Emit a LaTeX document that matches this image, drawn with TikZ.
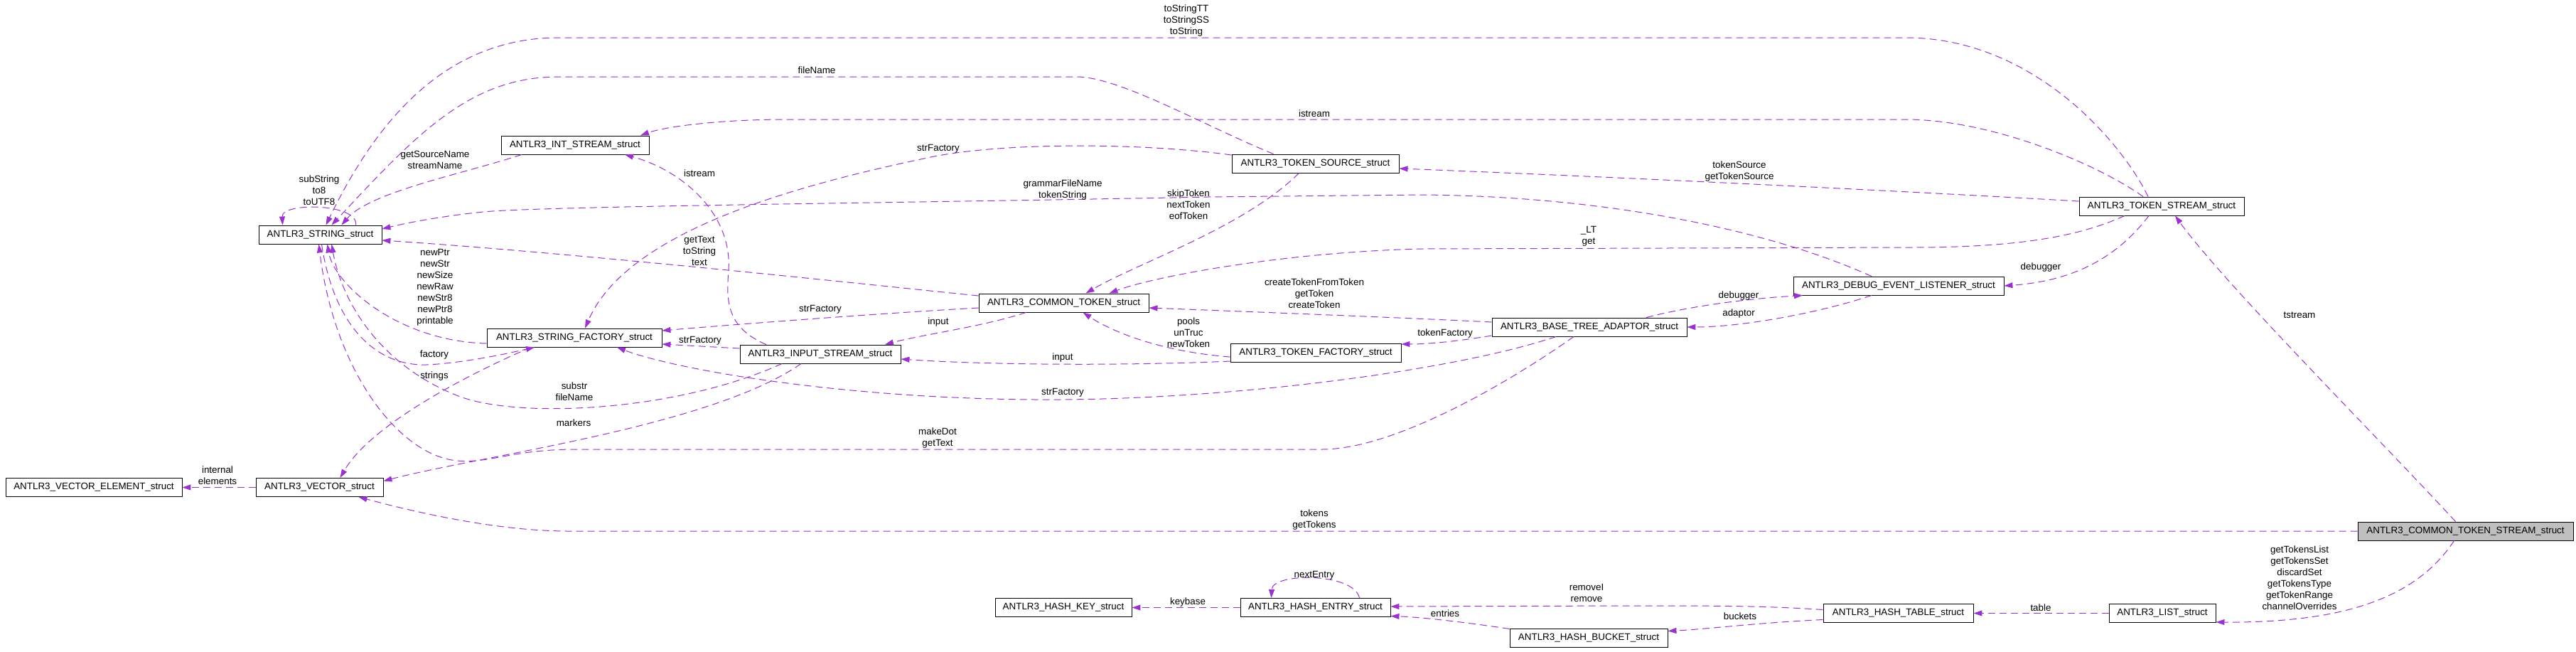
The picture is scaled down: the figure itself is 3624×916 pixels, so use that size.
\documentclass[tikz,border=0pt]{standalone}
\usepackage{fontspec}
\setmainfont{Liberation Sans}
\usetikzlibrary{arrows.meta}
\definecolor{edgecol}{RGB}{154,50,205}
\definecolor{focusfill}{RGB}{191,191,191}
\newcommand\fsz{\fontsize{13.4pt}{16pt}\selectfont}
\begin{document}
\begin{tikzpicture}[x=1pt,y=-1pt,
  box/.style={draw=black,fill=white,line width=0.9pt,minimum height=26pt,inner sep=0pt,font=\fsz,anchor=center},
  edge/.style={draw=edgecol,line width=1pt,dash pattern=on 10pt off 6pt,-{Triangle[length=12pt,width=8pt]}},
  lbl/.style={font=\fsz,align=center,inner sep=0pt}]
\fill[white] (0,0) rectangle (3624,916);
\useasboundingbox (0,0) rectangle (3624,916);

% nodes
\node[box,minimum width=173pt] (STRING) at (450.5,330) {ANTLR3\_STRING\_struct};
\node[box,minimum width=208pt] (INTSTR) at (809,204) {ANTLR3\_INT\_STREAM\_struct};
\node[box,minimum width=246pt] (STRFAC) at (808,475) {ANTLR3\_STRING\_FACTORY\_struct};
\node[box,minimum width=226pt] (INPUT) at (1154,498) {ANTLR3\_INPUT\_STREAM\_struct};
\node[box,minimum width=235pt] (TOKSRC) at (1850.5,230) {ANTLR3\_TOKEN\_SOURCE\_struct};
\node[box,minimum width=239pt] (CTOKEN) at (1496.5,426) {ANTLR3\_COMMON\_TOKEN\_struct};
\node[box,minimum width=240pt] (TOKFAC) at (1851,496) {ANTLR3\_TOKEN\_FACTORY\_struct};
\node[box,minimum width=274pt] (BASETREE) at (2236,460) {ANTLR3\_BASE\_TREE\_ADAPTOR\_struct};
\node[box,minimum width=296pt] (DEBUG) at (2671,402) {ANTLR3\_DEBUG\_EVENT\_LISTENER\_struct};
\node[box,minimum width=232pt] (TOKSTREAM) at (3041,290) {ANTLR3\_TOKEN\_STREAM\_struct};
\node[box,fill=focusfill,minimum width=303pt] (CTS) at (3468.5,747) {ANTLR3\_COMMON\_TOKEN\_STREAM\_struct};
\node[box,minimum width=150pt] (LIST) at (3042,862.5) {ANTLR3\_LIST\_struct};
\node[box,minimum width=211pt] (HTABLE) at (2670.5,862.5) {ANTLR3\_HASH\_TABLE\_struct};
\node[box,minimum width=222pt] (HBUCKET) at (2235,897.5) {ANTLR3\_HASH\_BUCKET\_struct};
\node[box,minimum width=211pt] (HENTRY) at (1850.5,854.5) {ANTLR3\_HASH\_ENTRY\_struct};
\node[box,minimum width=192pt] (HKEY) at (1496,854.5) {ANTLR3\_HASH\_KEY\_struct};
\node[box,minimum width=179pt] (VECTOR) at (449.5,685.5) {ANTLR3\_VECTOR\_struct};
\node[box,minimum width=248pt] (VELEM) at (132,685.5) {ANTLR3\_VECTOR\_ELEMENT\_struct};

% edges
\draw[edge] ([xshift=50]STRING.north) .. controls (505,286) and (396,284) .. ([xshift=-53]STRING.north);
\draw[edge] ([xshift=-19]TOKSTREAM.north) .. controls (2985,200) and (2860,53) .. (2681,53) -- (786,53) .. controls (620,53) and (525,180) .. ([xshift=8]STRING.north);
\draw[edge] ([xshift=-59]TOKSRC.north) .. controls (1690,175) and (1575,108) .. (1514,108) -- (786,108) .. controls (660,108) and (585,190) .. ([xshift=16]STRING.north);
\draw[edge] ([xshift=-75]INTSTR.south) .. controls (650,245) and (520,270) .. ([xshift=30]STRING.north);
\draw[edge] ([xshift=-38]DEBUG.north) .. controls (2480,320) and (2250,276) .. (2000,274) -- (1700,277) .. controls (1300,285) and (760,290) .. (680,298) .. controls (620,304) and (570,314) .. ([yshift=8]STRING.east);
\draw[edge] ([yshift=10]CTOKEN.west) .. controls (1200,398) and (800,355) .. ([yshift=-8]STRING.east);
\draw[edge] ([yshift=-8]STRFAC.west) .. controls (560,480) and (470,400) .. ([xshift=10]STRING.south);
\draw[edge] ([xshift=2]STRING.south) .. controls (470,460) and (530,515) .. (600,513) .. controls (650,511) and (715,497) .. ([xshift=-56]STRFAC.south);
\draw[edge] ([xshift=-61]STRFAC.south) .. controls (650,530) and (520,600) .. ([xshift=29]VECTOR.north);
\draw[edge] ([xshift=-54]INPUT.south) .. controls (950,580) and (720,590) .. (640,555) .. controls (530,510) and (480,420) .. ([xshift=16]STRING.south);
\draw[edge] ([xshift=-22]BASETREE.south) .. controls (2120,540) and (1960,632) .. (1860,632) -- (811,632) .. controls (720,632) and (690,652) .. (643,648) .. controls (560,640) and (470,520) .. ([xshift=-2]STRING.south);
\draw[edge] ([yshift=12]TOKSRC.west) .. controls (1600,200) and (1400,200) .. (1300,223) .. controls (1100,265) and (880,330) .. ([xshift=15]STRFAC.north);
\draw[edge] ([yshift=-7]CTOKEN.west) .. controls (1250,440) and (1050,455) .. ([yshift=10]STRFAC.east);
\draw[edge] ([yshift=8]INPUT.west) -- ([yshift=-9]STRFAC.east);
\draw[edge] ([xshift=-47]BASETREE.south) .. controls (2050,520) and (1750,560) .. (1495,562) .. controls (1200,564) and (950,520) .. ([xshift=60]STRFAC.south);
\draw[edge] ([xshift=-53]CTOKEN.south) .. controls (1380,460) and (1300,470) .. ([xshift=91]INPUT.north);
\draw[edge] ([yshift=-12]TOKFAC.west) .. controls (1600,514) and (1400,514) .. ([yshift=-7]INPUT.east);
\draw[edge] ([xshift=-76]INPUT.north) .. controls (1020,460) and (1022,420) .. (1025,380) .. controls (1030,300) and (960,240) .. ([xshift=70]INTSTR.south);
\draw[edge] ([xshift=-23]TOKSRC.south) .. controls (1750,320) and (1600,370) .. ([xshift=31]CTOKEN.north);
\draw[edge] ([xshift=-52]TOKSTREAM.south) .. controls (2930,330) and (2850,348) .. (2689,348) -- (2000,350) .. controls (1800,355) and (1620,390) .. ([xshift=64]CTOKEN.north);
\draw[edge] ([yshift=7]BASETREE.west) .. controls (2000,448) and (1800,440) .. ([yshift=-7]CTOKEN.east);
\draw[edge] ([yshift=-6]TOKFAC.west) .. controls (1640,495) and (1570,470) .. ([xshift=27]CTOKEN.south);
\draw[edge] ([yshift=7]TOKSTREAM.west) .. controls (2700,270) and (2300,250) .. ([yshift=-7]TOKSRC.east);
\draw[edge] ([xshift=-26]TOKSTREAM.north) .. controls (2950,230) and (2800,168) .. (2681,168) -- (1109,168) .. controls (1000,168) and (930,180) .. ([xshift=92]INTSTR.north);
\draw[edge] ([yshift=-12]BASETREE.west) .. controls (2050,480) and (2010,484) .. ([yshift=12]TOKFAC.east);
\draw[edge] ([xshift=80]BASETREE.north) .. controls (2380,430) and (2460,420) .. ([xshift=-135]DEBUG.south);
\draw[edge] ([xshift=-38]DEBUG.south) .. controls (2560,440) and (2450,460) .. (BASETREE.east);
\draw[edge] ([xshift=-18]TOKSTREAM.south) .. controls (2980,360) and (2920,395) .. (DEBUG.east);
\draw[edge] ([xshift=-14]CTS.north) .. controls (3350,620) and (3130,400) .. ([xshift=19]TOKSTREAM.south);
\draw[edge] (CTS.west) -- (800,747) .. controls (720,747) and (620,730) .. ([xshift=55]VECTOR.south);
\draw[edge] ([xshift=-27]INPUT.south) .. controls (1000,600) and (680,640) .. ([yshift=9]VECTOR.east);
\draw[edge] ([xshift=-16]CTS.south) .. controls (3400,840) and (3300,876) .. ([yshift=-12.5]LIST.east);
\draw[edge] (LIST.west) -- (HTABLE.east);
\draw[edge] ([yshift=-9]HTABLE.west) .. controls (2470,876) and (2400,885) .. ([yshift=10]HBUCKET.east);
\draw[edge] ([yshift=5]HTABLE.west) .. controls (2480,852) and (2420,852) .. (2300,852) -- ([yshift=1.5]HENTRY.east);
\draw[edge] ([yshift=13]HBUCKET.west) .. controls (2060,875) and (2000,868) .. ([yshift=-12]HENTRY.east);
\draw[edge] (HENTRY.west) -- (HKEY.east);
\draw[edge] ([xshift=62]HENTRY.north) .. controls (1905,805) and (1790,805) .. ([xshift=-62]HENTRY.north);
\draw[edge] (VECTOR.west) -- (VELEM.east);

% labels
\node[lbl] (lSelf) at (449,268) {subString\\to8\\toUTF8};
\node[lbl] (lToStr) at (1669,29) {toStringTT\\toStringSS\\toString};
\node[lbl] (lFile) at (1149,99) {fileName};
\node[lbl] (lIstreamTop) at (1849,160) {istream};
\node[lbl] (lGetSrc) at (612,225) {getSourceName\\streamName};
\node[lbl] (lStrFac1) at (1320,209) {strFactory};
\node[lbl] (lGrammar) at (1495,267) {grammarFileName\\tokenString};
\node[lbl] (lSkip) at (1672,288) {skipToken\\nextToken\\eofToken};
\node[lbl] (lTokSrc) at (2447,241) {tokenSource\\getTokenSource};
\node[lbl] (lIstreamIn) at (984,244) {istream};
\node[lbl] (lGetText) at (984,353) {getText\\toString\\text};
\node[lbl] (lLT) at (2235,332) {\_LT\\get};
\node[lbl] (lCreate) at (1849,413) {createTokenFromToken\\getToken\\createToken};
\node[lbl] (lNewPtr) at (612,404) {newPtr\\newStr\\newSize\\newRaw\\newStr8\\newPtr8\\printable};
\node[lbl] (lStrFac2) at (1154,435) {strFactory};
\node[lbl] (lInput1) at (1320,453) {input};
\node[lbl] (lPools) at (1672,468) {pools\\unTruc\\newToken};
\node[lbl] (lStrFac3) at (985,479) {strFactory};
\node[lbl] (lFactory) at (611,499) {factory};
\node[lbl] (lInput2) at (1495,503) {input};
\node[lbl] (lTokFac) at (2033,469) {tokenFactory};
\node[lbl] (lDebug1) at (2446,416) {debugger};
\node[lbl] (lAdaptor) at (2446,441) {adaptor};
\node[lbl] (lDebug2) at (2871,376) {debugger};
\node[lbl] (lTstream) at (3235,443) {tstream};
\node[lbl] (lStrings) at (611,529) {strings};
\node[lbl] (lSubstr) at (808,551) {substr\\fileName};
\node[lbl] (lStrFac4) at (1495,552) {strFactory};
\node[lbl] (lMarkers) at (807,595) {markers};
\node[lbl] (lMakeDot) at (1319,616) {makeDot\\getText};
\node[lbl] (lInternal) at (306,669) {internal\\elements};
\node[lbl] (lTokens) at (1849,731) {tokens\\getTokens};
\node[lbl] (lGetTokens) at (3235,813) {getTokensList\\getTokensSet\\discardSet\\getTokensType\\getTokenRange\\channelOverrides};
\node[lbl] (lNextEntry) at (1849,809) {nextEntry};
\node[lbl] (lRemove) at (2232,834) {removeI\\remove};
\node[lbl] (lKeybase) at (1671,847) {keybase};
\node[lbl] (lTable) at (2871,855) {table};
\node[lbl] (lEntries) at (2033,863) {entries};
\node[lbl] (lBuckets) at (2448,867) {buckets};
\end{tikzpicture}
\end{document}
